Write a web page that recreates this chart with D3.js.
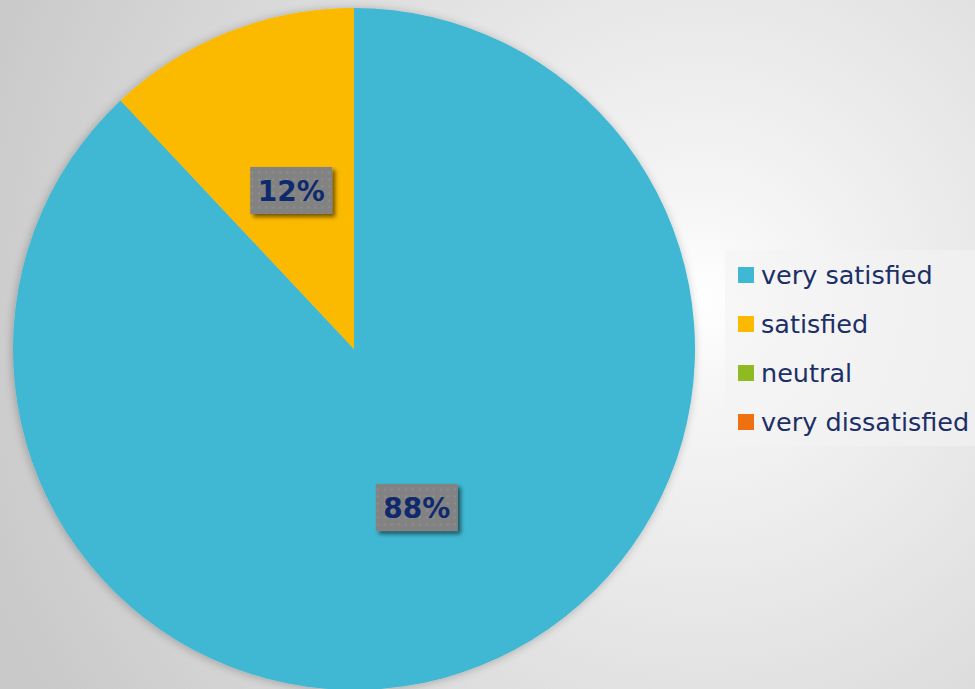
<!DOCTYPE html>
<html>
<head>
<meta charset="utf-8">
<script src="https://cdn.jsdelivr.net/npm/d3@7"></script>
<style>
  html, body { margin: 0; padding: 0; overflow: hidden; }
  svg { display: block; }
</style>
</head>
<body>
<svg id="chart" width="975" height="689"></svg>
<script>
// Survey satisfaction shares
const categories = ["very satisfied", "satisfied", "neutral", "very dissatisfied"];
const shares = [88, 12, 0, 0];
const colors = ["#3fb8d3", "#fbb900", "#8fbb22", "#ef7010"];

const width = 975, height = 689;
const svg = d3.select("#chart");
const defs = svg.append("defs");

// Soft radial background, brightest just right of the pie
const bg = defs.append("radialGradient")
  .attr("id", "bg").attr("gradientUnits", "userSpaceOnUse")
  .attr("cx", 700).attr("cy", 300).attr("r", 760);
bg.append("stop").attr("offset", "0").attr("stop-color", "#ffffff");
bg.append("stop").attr("offset", "0.12").attr("stop-color", "#f6f6f6");
bg.append("stop").attr("offset", "0.55").attr("stop-color", "#e0e0e0");
bg.append("stop").attr("offset", "1").attr("stop-color", "#c9c9c9");
svg.append("rect").attr("width", width).attr("height", height).attr("fill", "url(#bg)");

// Shadow under the pie
const sh = defs.append("filter").attr("id", "pieShadow")
  .attr("x", "-10%").attr("y", "-10%").attr("width", "120%").attr("height", "120%");
sh.append("feGaussianBlur").attr("in", "SourceAlpha").attr("stdDeviation", 5).attr("result", "b");
sh.append("feOffset").attr("in", "b").attr("dx", -1).attr("dy", 1).attr("result", "o");
sh.append("feComponentTransfer").attr("in", "o").attr("result", "s")
  .append("feFuncA").attr("type", "linear").attr("slope", 0.25);
const shm = sh.append("feMerge");
shm.append("feMergeNode").attr("in", "s");
shm.append("feMergeNode").attr("in", "SourceGraphic");

// Shadow under the value labels
const ls = defs.append("filter").attr("id", "labelShadow")
  .attr("x", "-20%").attr("y", "-20%").attr("width", "150%").attr("height", "160%");
ls.append("feGaussianBlur").attr("in", "SourceAlpha").attr("stdDeviation", 2).attr("result", "b");
ls.append("feOffset").attr("in", "b").attr("dx", 3).attr("dy", 3).attr("result", "o");
ls.append("feComponentTransfer").attr("in", "o").attr("result", "s")
  .append("feFuncA").attr("type", "linear").attr("slope", 0.55);
const lsm = ls.append("feMerge");
lsm.append("feMergeNode").attr("in", "s");
lsm.append("feMergeNode").attr("in", "SourceGraphic");

// Dotted fill for the value label boxes
const pat = defs.append("pattern").attr("id", "dots")
  .attr("patternUnits", "userSpaceOnUse").attr("width", 7).attr("height", 7);
pat.append("rect").attr("width", 7).attr("height", 7).attr("fill", "#828282");
pat.append("rect").attr("x", 2).attr("y", 2).attr("width", 2).attr("height", 2).attr("fill", "#8f8f8f");

const cx = 354, cy = 349, r = 341;

const pie = d3.pie().sort(null).value(d => d.v);
const arcs = pie(categories.map((c, i) => ({ c, v: shares[i], color: colors[i] })));
const arc = d3.arc().innerRadius(0).outerRadius(r);
const labelArc = d3.arc().innerRadius(r * 0.5).outerRadius(r * 0.5);

const g = svg.append("g").attr("transform", `translate(${cx},${cy})`);
g.append("g").attr("filter", "url(#pieShadow)")
  .selectAll("path").data(arcs.filter(d => d.data.v > 0)).join("path")
  .attr("d", arc).attr("fill", d => d.data.color);

// Value labels
const lab = g.selectAll("g.lab").data(arcs.filter(d => d.data.v > 0)).join("g")
  .attr("class", "lab")
  .attr("transform", d => { const [x, y] = labelArc.centroid(d); return `translate(${x},${y})`; });
lab.append("rect")
  .attr("x", -41).attr("y", -23.5).attr("width", 82).attr("height", 47)
  .attr("fill", "url(#dots)").attr("filter", "url(#labelShadow)");
lab.append("text")
  .attr("text-anchor", "middle").attr("dy", "0.37em")
  .attr("font-family", "'DejaVu Sans', sans-serif").attr("font-weight", "bold")
  .attr("font-size", 28).attr("fill", "#0f2a6c")
  .text(d => d3.format(".0%")(d.data.v / 100));

// Legend
const legend = svg.append("g");
legend.append("rect").attr("x", 725).attr("y", 250).attr("width", 260).attr("height", 196)
  .attr("fill", "#f4f4f4").attr("opacity", 0.6);
const rowY = d3.scalePoint().domain(categories).range([275, 422]);
const item = legend.selectAll("g.item").data(categories).join("g")
  .attr("class", "item").attr("transform", d => `translate(738,${rowY(d)})`);
item.append("rect").attr("x", 0).attr("y", -8).attr("width", 16).attr("height", 16)
  .attr("fill", (d, i) => colors[i]);
item.append("text").attr("x", 23).attr("dy", "0.35em")
  .attr("font-family", "'DejaVu Sans', sans-serif").attr("font-size", 25.5)
  .attr("fill", "#1c2f66")
  .text(d => d);
</script>
</body>
</html>
